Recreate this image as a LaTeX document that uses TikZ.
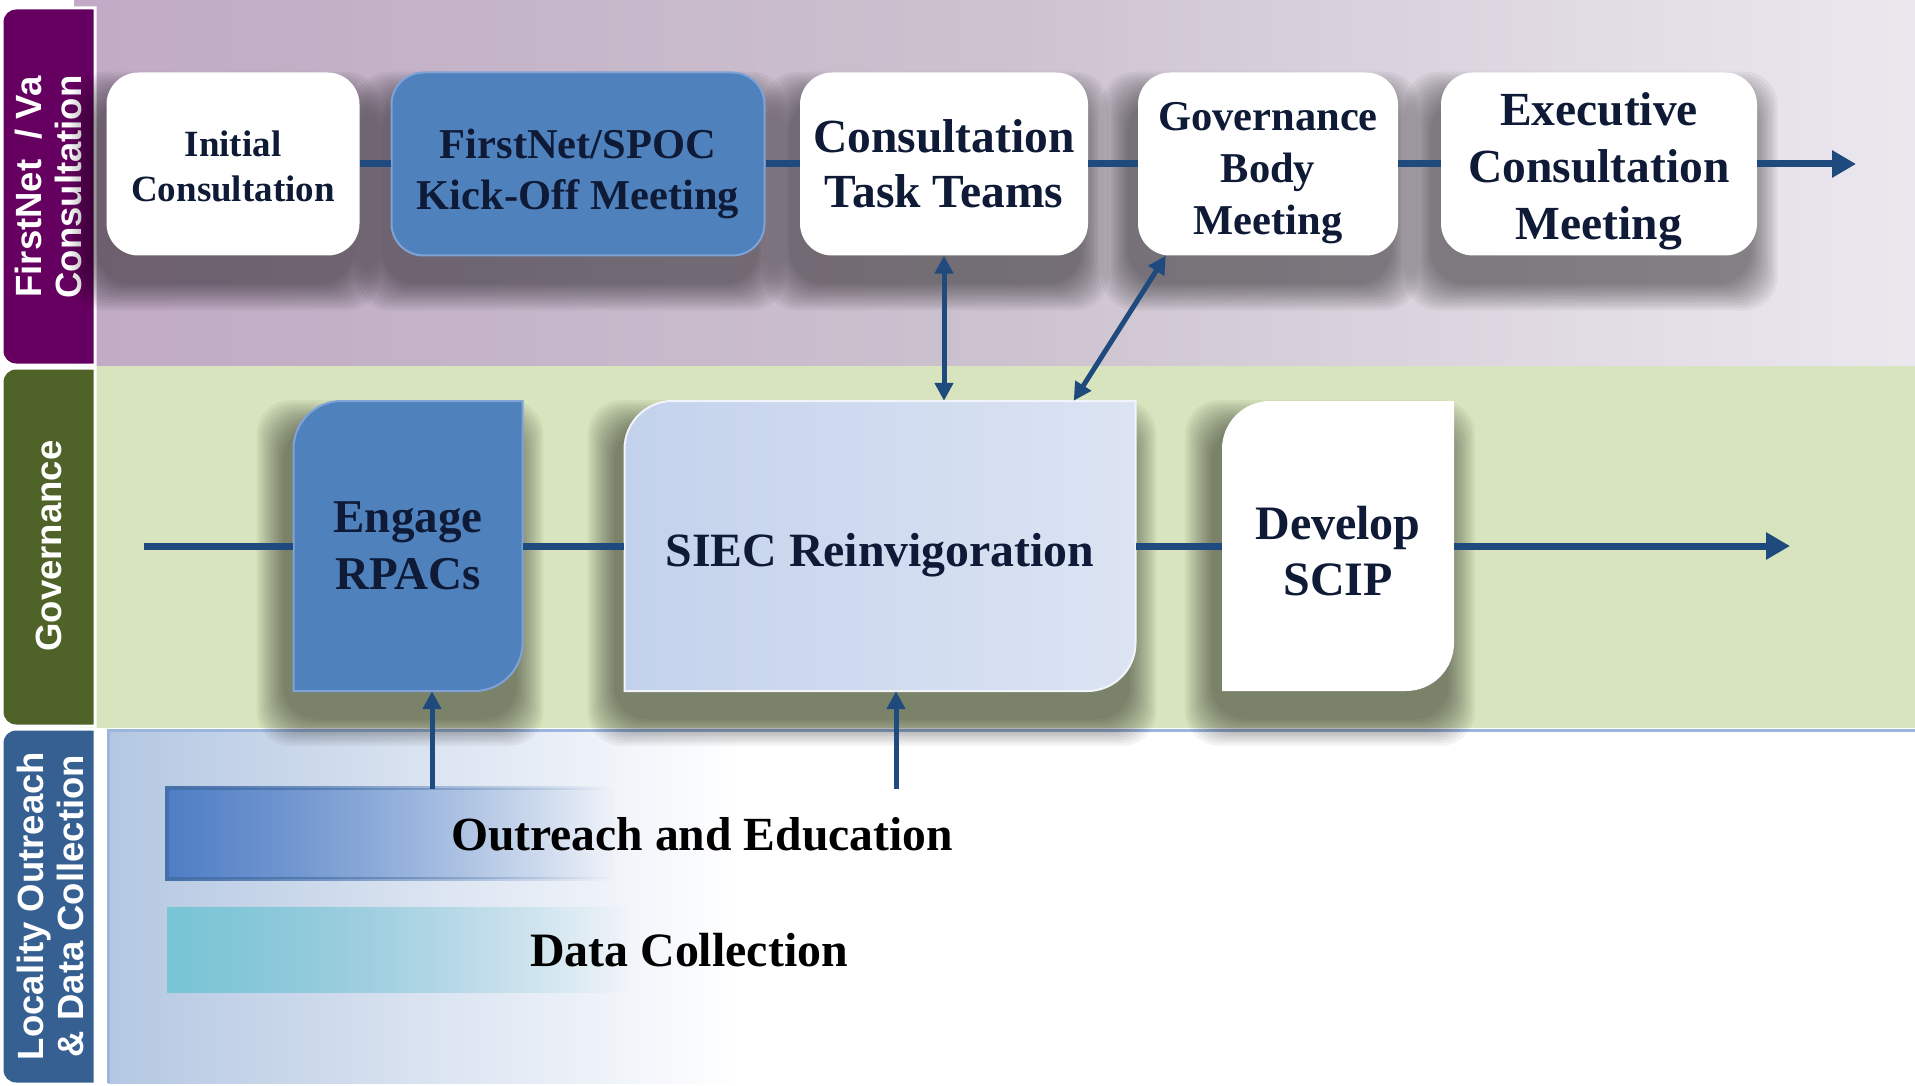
\documentclass[tikz,border=0pt]{standalone}
\usepackage{fontspec}
\setmainfont{Liberation Serif}
\setsansfont{Liberation Sans}
\usetikzlibrary{arrows.meta,calc,fadings}
\tikzfading[name=fadeout right, left color=transparent!0, right color=transparent!100]

\definecolor{textnavy}{HTML}{0E1A36}
\definecolor{linenavy}{HTML}{1F4A7E}
\definecolor{kickblue}{HTML}{4F81BD}
\definecolor{kickedge}{HTML}{7FA3D6}
\definecolor{siecleft}{HTML}{C3D2EC}
\definecolor{siecright}{HTML}{DCE4F3}
\definecolor{govgreen}{HTML}{D7E4BD}
\definecolor{locblue}{HTML}{B4C7E2}
\definecolor{locedge}{HTML}{9BB6DD}
\definecolor{tabpurple}{HTML}{650060}
\definecolor{tabgreen}{HTML}{4F6228}
\definecolor{tabblue}{HTML}{366092}
\definecolor{outblue}{HTML}{4F7EC6}
\definecolor{outedge}{HTML}{456FA8}
\definecolor{datateal}{HTML}{78C5D5}
\pgfdeclarehorizontalshading{fnshade}{100bp}{color(0bp)=(rgb,255:red,190;green,155;blue,196);
  color(30bp)=(rgb,255:red,194;green,174;blue,198); color(50bp)=(rgb,255:red,204;green,194;blue,207);
  color(70bp)=(rgb,255:red,230;green,225;blue,233); color(88bp)=(rgb,255:red,249;green,248;blue,250);
  color(100bp)=(white)}

\newcommand{\boxfont}[2]{\bfseries\fontsize{#1}{#2}\selectfont}
\newcommand{\lift}[1]{\rule{0pt}{#1pt}}
% soft shadow under a box: x1 y1 x2 y2
\newcommand{\dropshadow}[4]{%
  \foreach \s in {1,...,12} {
    \pgfmathsetmacro{\shd}{2.4*\s}
    \fill[black, opacity=0.042, rounded corners=34pt] ({#1-8-\shd},{#2+28-\shd}) rectangle ({#3-8+\shd},{#4+26+\shd});
  }}
% box with round top-left and bottom-right corners: x1 y1 x2 y2 style
\newcommand{\leafbox}[5]{\path[#5] (#1,{#2+48}) .. controls (#1,{#2+21.5}) and ({#1+21.5},#2) .. ({#1+48},#2) -- (#3,#2) -- (#3,{#4-48}) .. controls (#3,{#4-21.5}) and ({#3-21.5},#4) .. ({#3-48},#4) -- (#1,#4) -- cycle;}
% lane tab with round left corners: y1 y2 colour
\newcommand{\lanetab}[3]{\path[fill=#3, draw=white, line width=3pt] (95,#1) -- (16,#1) .. controls (8,#1) and (2,{#1+6}) .. (2,{#1+14}) -- (2,{#2-14}) .. controls (2,{#2-6}) and (8,#2) .. (16,#2) -- (95,#2) -- cycle;}

\tikzset{
  topbox/.style={rounded corners=32pt, minimum height=183pt, inner sep=4pt, align=center, text=textnavy, text depth=0pt},
  midbox/.style={minimum height=290pt, inner sep=4pt, align=center, text=textnavy, text depth=0pt},
  flow/.style={draw=linenavy, line width=7pt},
  flowend/.style={flow, -{Triangle[length=24pt,width=26pt]}},
  link/.style={draw=linenavy, line width=5pt, {Triangle[length=18pt,width=18pt]}-{Triangle[length=18pt,width=18pt]}},
  uplink/.style={draw=linenavy, line width=5pt, -{Triangle[length=18pt,width=18pt]}},
  tablabel/.style={rotate=90, text=white, align=center, font=\sffamily\bfseries\fontsize{36.5}{40}\selectfont}
}

\begin{document}
\begin{tikzpicture}[x=1pt, y=-1pt]
  \useasboundingbox (0,0) rectangle (1915,1086);

  % Lanes
  \fill[white] (0,0) rectangle (1915,1086);
  \path[shading=fnshade] (74,0) rectangle (1915,366);
  \fill[govgreen] (74,366) rectangle (1915,728);
  \path[left color=locblue, right color=white] (108,730) rectangle (740,1083);
  \draw[locedge, line width=3pt] (1915,730) -- (108,730) -- (108,1083);
  \lanetab{8}{365}{tabpurple}
  \lanetab{368}{726}{tabgreen}
  \lanetab{729}{1084}{tabblue}
  \node[tablabel] (tabfn) at (48,187) {FirstNet\ \ / Va\\Consultation};
  \node[tablabel] (tabgov) at (49,546) {Governance};
  \node[tablabel] (tabloc) at (50,906) {Locality Outreach\\\& Data Collection};

  % Shadows under the boxes
  \foreach \xa/\xb in {106.5/359.5, 391.5/764.5, 800/1088, 1138/1398, 1441/1757}
    \dropshadow{\xa}{72.5}{\xb}{255.5};
  \foreach \xa/\xb in {293.5/522.5, 624.5/1135.5, 1222/1454}
    \dropshadow{\xa}{401}{\xb}{691};

  % Consultation row
  \node[topbox, fill=white, minimum width=253pt, font={\boxfont{37}{45}}] (init) at (233,164) {\lift{30}Initial\\Consultation};
  \node[topbox, fill=kickblue, draw=kickedge, line width=2pt, minimum width=373pt, font={\boxfont{42.5}{51}}] (kick) at (578,164) {\lift{41}FirstNet/SPOC\\Kick-Off Meeting};
  \node[topbox, fill=white, minimum width=288pt, font={\boxfont{47.5}{55}}] (task) at (944,164) {Consultation\\Task Teams};
  \node[topbox, fill=white, minimum width=260pt, font={\boxfont{42.5}{52}}] (gov) at (1268,164) {\lift{37}Governance\\Body\\Meeting};
  \node[topbox, fill=white, minimum width=316pt, font={\boxfont{47.5}{57}}] (exec) at (1599,164) {\lift{38}Executive\\Consultation\\Meeting};
  \foreach \a/\b in {init/kick, kick/task, task/gov, gov/exec}
    \draw[flow] (\a) -- (\b);
  \coordinate (topend) at (1856,164);
  \draw[flowend] (exec) -- (topend);

  % Governance row
  \leafbox{293.5}{401}{522.5}{691}{fill=kickblue, draw=kickedge, line width=2pt}
  \leafbox{624.5}{401}{1135.5}{691}{left color=siecleft, right color=siecright, draw=white!60!siecright, line width=2pt}
  \leafbox{1222}{401}{1454}{691}{fill=white}
  \node[midbox, minimum width=229pt, font={\boxfont{47}{57}}] (rpac) at (408,546) {Engage\\RPACs};
  \node[midbox, minimum width=511pt, font={\boxfont{47.8}{56}}] (siec) at (880,546) {\lift{41}SIEC Reinvigoration};
  \node[midbox, minimum width=232pt, font={\boxfont{48}{56}}] (scip) at (1338,546) {\lift{43}Develop\\SCIP};
  \coordinate (govstart) at (144,546);
  \coordinate (govend) at (1790,546);
  \draw[flow] (govstart) -- (rpac);
  \draw[flow] (rpac) -- (siec);
  \draw[flow] (siec) -- (scip);
  \draw[flowend] (scip) -- (govend);

  % Links between rows
  \draw[link] (task.south) -- (task.south |- siec.north);
  \draw[link] ($(gov.south west)+(28,0)$) -- ($(siec.north east)+(-62,0)$);

  % Outreach and data collection
  \path[fill=outblue, draw=outedge, line width=4pt, path fading=fadeout right] (167,788) rectangle (612,879);
  \fill[datateal, path fading=fadeout right] (167,907) rectangle (630,993);
  \node[font={\boxfont{47.6}{55}}] (outreach) at (702,834) {Outreach and Education};
  \node[font={\boxfont{47.9}{55}}] (datacol) at (689,950) {Data Collection};
  \coordinate (out1) at (432,789);
  \coordinate (out2) at (896,789);
  \draw[uplink] (out1) -- (out1 |- rpac.south);
  \draw[uplink] (out2) -- (out2 |- siec.south);
\end{tikzpicture}
\end{document}
